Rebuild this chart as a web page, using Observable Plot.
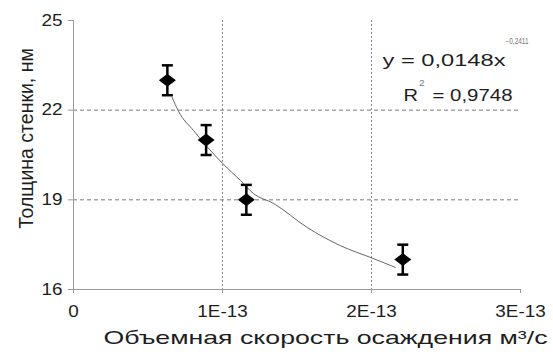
<!DOCTYPE html>
<html>
<head>
<meta charset="utf-8">
<script src="https://cdn.jsdelivr.net/npm/d3@7"></script>
<script src="https://cdn.jsdelivr.net/npm/@observablehq/plot@0.6"></script>
<style>
  html, body { margin: 0; padding: 0; background: #fff; }
  #chart svg { display: block; }
</style>
</head>
<body>
<div id="chart"></div>
<script>
// ---- data ----
const flowRates = [0.63e-13, 0.89e-13, 1.16e-13, 2.21e-13];   // m³/s
const thickness = [23, 21, 19, 17];                          // nm
const errors    = [0.5, 0.5, 0.5, 0.5];                      // nm

// power trendline, points
const trendX = [6.62e-14, 7.05e-14, 8.05e-14, 1.0e-13, 1.12e-13, 1.208e-13, 1.342e-13, 1.57e-13, 1.79e-13, 2.01e-13, 2.16e-13];
const trendY = [22.43, 21.96, 21.32, 20.22, 19.65, 19.21, 18.88, 18.07, 17.47, 17.04, 16.74];

const xTicks = [0, 1e-13, 2e-13, 3e-13];
const xTickLabels = ["0", "1E-13", "2E-13", "3E-13"];
const yTicks = [16, 19, 22, 25];
const xGrid = [1e-13, 2e-13];
const yGrid = [19, 22];

const xTitle = "Объемная скорость осаждения м³/с";
const yTitle = "Толщина стенки, нм";
const eqMain = "y = 0,0148x";
const eqExp = "−0,2411";
const r2Main = "R";
const r2Sup = "2";
const r2Val = "= 0,9748";

const points = flowRates.map((x, i) => ({x, y: thickness[i], lo: thickness[i] - errors[i], hi: thickness[i] + errors[i]}));
const trend = trendX.map((x, i) => ({x, y: trendY[i]}));

const wideDiamond = {
  draw(ctx) {
    ctx.moveTo(0, -6.5); ctx.lineTo(8.5, 0); ctx.lineTo(0, 6.5); ctx.lineTo(-8.5, 0); ctx.closePath();
  }
};
const capSymbol = {
  draw(ctx) { ctx.moveTo(-5.5, 0); ctx.lineTo(5.5, 0); }
};

const FONT = "'Liberation Sans', Arial, sans-serif";
const TEXT = "#1e1e1e";
const AXIS = "#9a9a9a";

const plot = Plot.plot({
  width: 553,
  height: 355,
  marginLeft: 73,
  marginRight: 33,
  marginTop: 20,
  marginBottom: 66,
  style: {fontFamily: FONT, color: TEXT, background: "#fff"},
  x: {domain: [0, 3e-13], label: null},
  y: {domain: [16, 25], label: null},
  marks: [
    Plot.gridY(yGrid, {stroke: "#7a7a7a", strokeOpacity: 1, strokeDasharray: "4,3"}),
    Plot.gridX(xGrid, {stroke: "#8a8a8a", strokeOpacity: 1, strokeDasharray: "2,2"}),
    Plot.ruleX([0], {stroke: AXIS}),
    Plot.ruleY([16], {stroke: AXIS}),
    Plot.axisY({ticks: yTicks, tickSize: 5, tickPadding: 6, fontSize: 16, stroke: AXIS, fill: TEXT, label: null}),
    Plot.axisX({ticks: xTicks, tickFormat: (d, i) => xTickLabels[i], tickSize: 4, tickPadding: 12, fontSize: 16, stroke: AXIS, fill: TEXT, label: null}),
    Plot.line(trend, {x: "x", y: "y", stroke: "#666", strokeWidth: 1, curve: "monotone-x"}),
    Plot.ruleX(points, {x: "x", y1: "lo", y2: "hi", stroke: "#000", strokeWidth: 2.5}),
    Plot.dot(points, {x: "x", y: "hi", symbol: capSymbol, stroke: "#000", strokeWidth: 2.5, fill: "none", r: 5}),
    Plot.dot(points, {x: "x", y: "lo", symbol: capSymbol, stroke: "#000", strokeWidth: 2.5, fill: "none", r: 5}),
    Plot.dot(points, {x: "x", y: "y", symbol: wideDiamond, fill: "#000", stroke: "none", r: 6}),
    Plot.text([xTitle], {frameAnchor: "bottom", textAnchor: "middle", dx: 28.5, dy: 54, fontSize: 19, fill: TEXT, className: "xtitle"}),
    Plot.text([yTitle], {frameAnchor: "left", textAnchor: "middle", rotate: -90, dx: -47, dy: -16.5, fontSize: 19.5, fill: TEXT, className: "ytitle"}),
    Plot.text([eqMain], {frameAnchor: "top-left", textAnchor: "start", dx: 309, dy: 33.5, fontSize: 17, fill: TEXT, className: "eqmain"}),
    Plot.text([eqExp], {frameAnchor: "top-left", textAnchor: "start", dx: 432, dy: 17, fontSize: 8.5, fill: "#777", className: "eqexp"}),
    Plot.text([r2Main], {frameAnchor: "top-left", textAnchor: "start", dx: 330, dy: 68.6, fontSize: 17, fill: TEXT}),
    Plot.text([r2Sup], {frameAnchor: "top-left", textAnchor: "start", dx: 345.5, dy: 59, fontSize: 8.5, fill: "#777"}),
    Plot.text([r2Val], {frameAnchor: "top-left", textAnchor: "start", dx: 359, dy: 68.6, fontSize: 17, fill: TEXT, className: "r2val"})
  ]
});
document.getElementById("chart").appendChild(plot);

// widen glyphs horizontally like the reference picture (not the rotated title)
const fixed = {"xtitle": 444, "eqmain": 123, "r2val": 80, "eqexp": 23};
d3.select(plot).selectAll("text").each(function () {
  const g = this.closest("g");
  const classes = g ? Array.from(g.classList) : [];
  if (classes.includes("ytitle")) return;
  const cls = classes.find(c => fixed[c] !== undefined);
  const L = this.getComputedTextLength();
  if (!L) return;
  const target = cls ? fixed[cls] : L * 1.18;
  this.setAttribute("textLength", target);
  this.setAttribute("lengthAdjust", "spacingAndGlyphs");
});
</script>
</body>
</html>
